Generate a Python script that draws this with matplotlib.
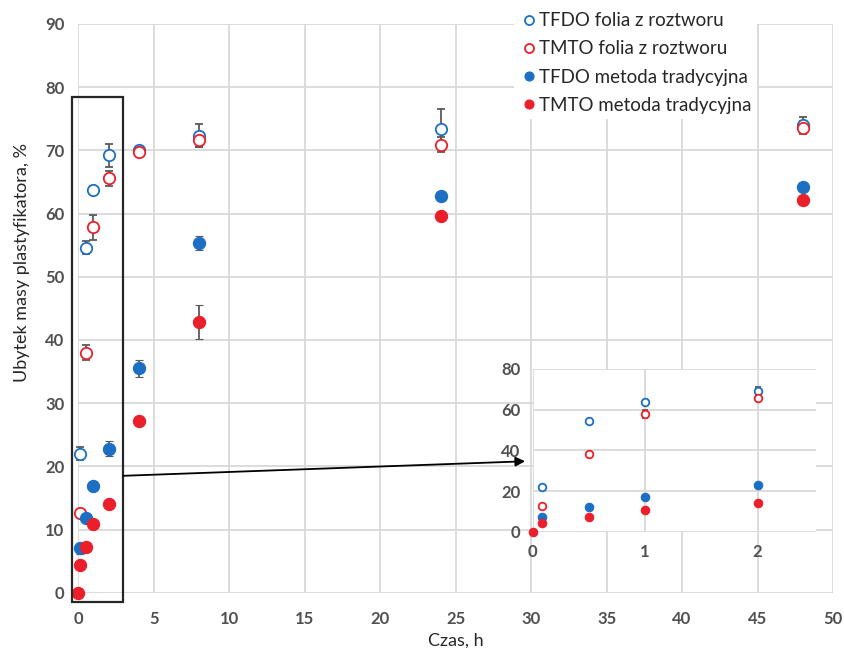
import numpy as np
import matplotlib.pyplot as plt
from matplotlib.patches import Rectangle
from matplotlib.lines import Line2D

plt.rcParams['font.family'] = ['Lato', 'DejaVu Sans']

# czas, h
czas = [0, 0.083, 0.5, 1, 2, 4, 8, 24, 48]

tfdo_folia = [np.nan, 22.0, 54.6, 63.8, 69.2, 70.0, 72.3, 73.4, 74.0]
tfdo_folia_err = [0, 1.0, 1.0, 0.6, 1.8, 0.6, 1.8, 3.2, 1.3]
tmto_folia = [np.nan, 12.6, 38.0, 57.8, 65.6, 69.8, 71.6, 70.9, 73.6]
tmto_folia_err = [0, 0.5, 1.2, 2.0, 1.2, 0.6, 1.0, 1.2, 1.0]
tfdo_trad = [np.nan, 7.0, 11.9, 16.9, 22.8, 35.5, 55.4, 62.7, 64.2]
tfdo_trad_err = [0, 0.8, 0.6, 0.4, 1.2, 1.3, 1.1, 0.3, 0.3]
tmto_trad = [0, 4.4, 7.3, 10.8, 14.1, 27.1, 42.8, 59.6, 62.1]
tmto_trad_err = [0, 0.5, 0.5, 0.5, 0.4, 0.5, 2.7, 0.3, 0.3]

labels = ['TFDO folia z roztworu', 'TMTO folia z roztworu',
          'TFDO metoda tradycyjna', 'TMTO metoda tradycyjna']

blue = '#1c6fc3'
red = '#ea1f29'
grid_c = '#d9d9d9'
txt_c = '#505050'

series = [
    (tfdo_folia, tfdo_folia_err, blue, True),
    (tmto_folia, tmto_folia_err, red, True),
    (tfdo_trad, tfdo_trad_err, blue, False),
    (tmto_trad, tmto_trad_err, red, False),
]

fig = plt.figure(figsize=(8.45, 6.48), dpi=100)
ax = fig.add_axes([0.0927, 0.0853, 0.8931, 0.8777])


def draw(a, ms, cap):
    for vals, err, col, hollow in series:
        a.errorbar(czas, vals, yerr=err, fmt='o', ms=ms if hollow else ms + 0.6,
                   mfc='white' if hollow else col, mec=col,
                   mew=1.3 if hollow else 0.8,
                   ecolor='#5a5a5a', elinewidth=1.3, capsize=cap, capthick=1.3,
                   clip_on=False, zorder=3)


draw(ax, 8.2, 3.2)
ax.set_xlim(0, 50)
ax.set_ylim(0, 90)
ax.set_xticks(range(0, 51, 5))
ax.set_yticks(range(0, 91, 10))
ax.grid(True, color=grid_c, lw=1.3)
ax.set_axisbelow(True)
for s in ax.spines.values():
    s.set_visible(False)
ax.tick_params(length=0, labelsize=12, colors=txt_c)
ax.tick_params(axis='x', pad=13)
ax.tick_params(axis='y', pad=10)
for t in ax.get_xticklabels() + ax.get_yticklabels():
    t.set_fontweight('bold')
ax.set_xlabel('Czas, h', fontsize=13, color='#262626', labelpad=4)
ax.set_ylabel('Ubytek masy plastyfikatora, %', fontsize=13, color='#262626')
ax.yaxis.set_label_coords(-0.064, 0.58)

# ramka wokol poczatkowego fragmentu i strzalka do powiekszenia
ax.add_patch(Rectangle((-0.42, -1.5), 3.37, 79.9, fill=False, ec='#262626',
                       lw=1.6, clip_on=False, zorder=4))
ax.annotate('', xy=(29.6, 20.8), xytext=(2.95, 18.5),
            arrowprops=dict(arrowstyle='-|>', color='black', lw=1.3,
                            mutation_scale=14, shrinkA=0, shrinkB=0), zorder=4)

handles = [Line2D([], [], ls='none', marker='o', ms=6.5,
                  mfc='white' if hollow else col, mec=col, mew=1.3 if hollow else 0.8)
           for vals, err, col, hollow in series]
leg = fig.legend(handles, labels, loc='upper left', bbox_to_anchor=(0.608, 0.99),
                 frameon=True, fontsize=13.5, labelspacing=0.6, handletextpad=0.05,
                 handlelength=1.0, borderpad=0.3, borderaxespad=0)
leg.get_frame().set_facecolor('white')
leg.get_frame().set_edgecolor('none')
leg.get_frame().set_alpha(1)
for t in leg.get_texts():
    t.set_color('#262626')

# wstawka z powiekszeniem
ins = fig.add_axes([0.6304, 0.1795, 0.3353, 0.2511])
ins.set_facecolor('white')
draw(ins, 5.5, 2)
ins.set_xlim(0, 2.52)
ins.set_ylim(0, 80)
ins.set_xticks([0, 1, 2])
ins.set_yticks(range(0, 81, 20))
ins.grid(True, color=grid_c, lw=1.3)
ins.set_axisbelow(True)
for s in ins.spines.values():
    s.set_visible(False)
ins.tick_params(length=0, labelsize=12, colors=txt_c, pad=9)
for t in ins.get_xticklabels() + ins.get_yticklabels():
    t.set_fontweight('bold')

fig.savefig('out.png', dpi=100)
